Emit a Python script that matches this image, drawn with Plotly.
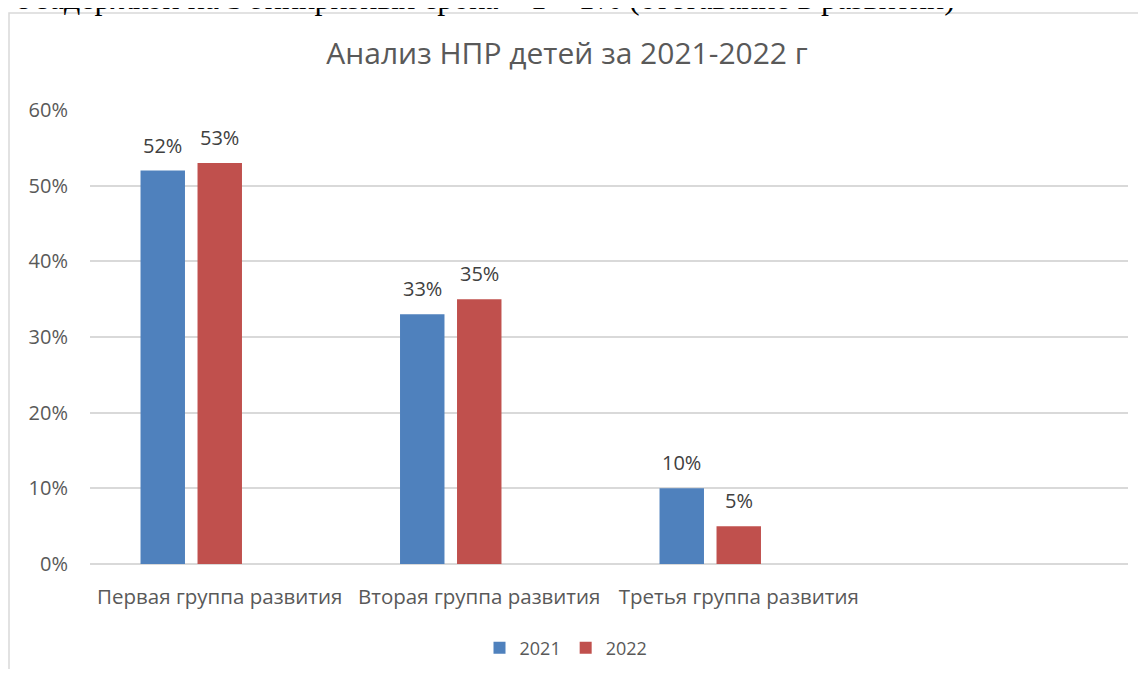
import plotly.graph_objects as go

# ---- data ----
categories = ["Первая группа развития", "Вторая группа развития", "Третья группа развития", " "]
series_names = ["2021", "2022", ""]
values_2021 = [0.52, 0.33, 0.10, None]
values_2022 = [0.53, 0.35, 0.05, None]
values_empty = [None, None, None, None]
label_2021 = ["52%", "33%", "10%", None]
label_2022 = ["53%", "35%", "5%", None]
y_ticks = [0, 0.1, 0.2, 0.3, 0.4, 0.5, 0.6]
y_ticktext = ["0%", "10%", "20%", "30%", "40%", "50%", "60%"]
title_text = "Анализ НПР детей за 2021-2022 г"
top_text = "с задержкой на 3 эпикризных срока – 1 – 1% (отставание в развитии)"

colors = ["#4F81BD", "#C0504D", "#9BBB59"]
FONT = "Open Sans"
GREY = "#595959"
# page body has an 8px margin, so the figure is sized to fit the window
W, H = 1130, 661
ML, MR, MT, MB = 82, 10, 102, 105
BARGAP = 0.341
BARGROUPGAP = 0.22

fig = go.Figure()
all_vals = [values_2021, values_2022, values_empty]
for name, vals, col in zip(series_names, all_vals, colors):
    fig.add_trace(go.Bar(
        x=categories, y=vals, name=name, marker_color=col,
        marker_line_width=0, showlegend=(name != ""),
        hoverinfo="skip" if name == "" else None,
    ))

# data labels placed at bar centres (category index + group slot offset)
n_series = len(series_names)
slot = (1 - BARGAP) / n_series
annotations = []
for s, (vals, labels) in enumerate([(values_2021, label_2021), (values_2022, label_2022)]):
    off = (s - (n_series - 1) / 2) * slot
    for i, (v, t) in enumerate(zip(vals, labels)):
        if v is None:
            continue
        annotations.append(dict(
            x=i + off, y=v, xref="x", yref="y", text=t, showarrow=False,
            yanchor="bottom", yshift=10,
            font=dict(family=FONT, size=20, color="#404040"),
        ))

plot_h = H - MT - MB
plot_w = W - ML - MR
# partially visible line of document text above the chart
annotations.append(dict(
    x=(5 - ML) / plot_w, y=(H - MB - 10) / plot_h, xref="paper", yref="paper",
    text=top_text, showarrow=False, xanchor="left", yanchor="bottom",
    font=dict(family="Liberation Serif", size=32, color="#000000"),
))

fig.update_layout(
    width=W, height=H,
    margin=dict(l=ML, r=MR, t=MT, b=MB, autoexpand=False),
    paper_bgcolor="white", plot_bgcolor="white",
    barmode="group", bargap=BARGAP, bargroupgap=BARGROUPGAP,
    title=dict(text=title_text, x=559 / W, xanchor="center", y=1 - 45 / H, yanchor="middle",
               xref="container", yref="container",
               font=dict(family=FONT, size=30, color=GREY)),
    font=dict(family=FONT, color=GREY),
    xaxis=dict(type="category", categoryorder="array", categoryarray=categories,
               range=[-0.5, len(categories) - 0.5],
               showgrid=False, showline=False, zeroline=False, ticks="",
               ticklabelstandoff=18,
               tickfont=dict(family=FONT, size=20.5, color=GREY)),
    yaxis=dict(range=[0, 0.6], tickvals=y_ticks, ticktext=y_ticktext,
               showgrid=True, gridcolor="#D9D9D9", gridwidth=1.5,
               zeroline=True, zerolinecolor="#D9D9D9", zerolinewidth=1.5,
               showline=False, ticks="", ticklabelstandoff=21,
               tickfont=dict(family=FONT, size=20, color=GREY)),
    legend=dict(orientation="h", x=(558 - ML) / plot_w, xanchor="center",
                y=(H - MB - 640) / plot_h, yanchor="middle",
                font=dict(family=FONT, size=18, color=GREY),
                itemwidth=30, tracegroupgap=0),
    annotations=annotations,
    shapes=[dict(type="rect", xref="paper", yref="paper",
                 x0=(1 - ML) / plot_w, x1=(W + 20 - ML) / plot_w,
                 y0=(H - MB - (H + 30)) / plot_h, y1=(H - MB - 5) / plot_h,
                 line=dict(color="#D9D9D9", width=1.5), fillcolor="rgba(0,0,0,0)",
                 layer="below")],
)

fig.write_html("out.html")
